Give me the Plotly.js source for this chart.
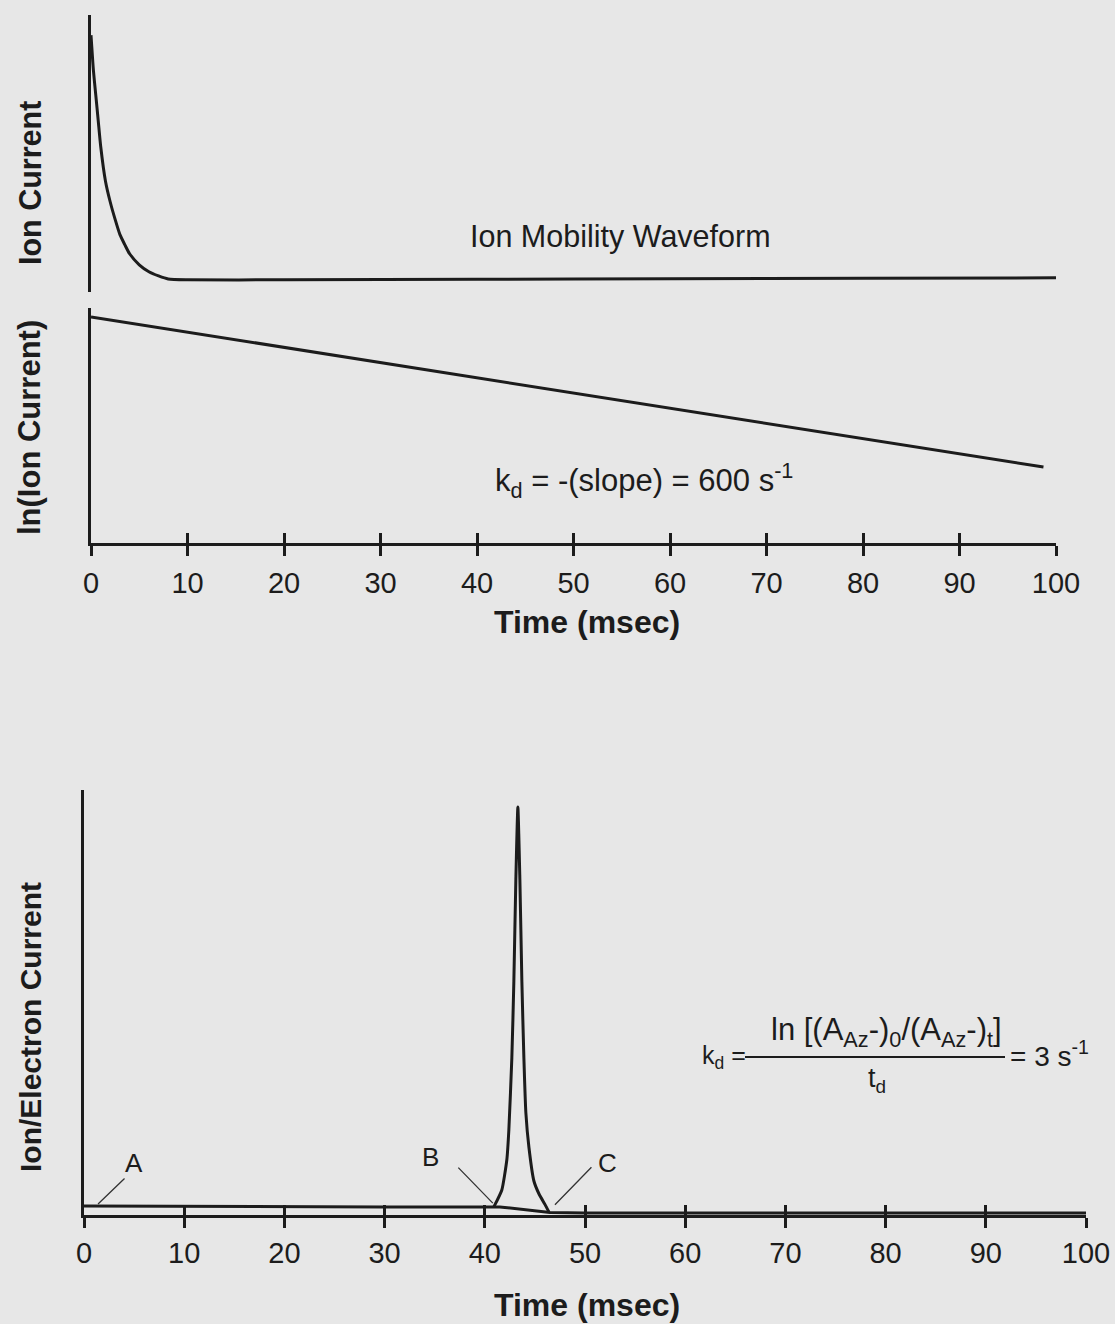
<!DOCTYPE html>
<html><head><meta charset="utf-8">
<script src="https://cdn.plot.ly/plotly-3.0.1.min.js"></script>
<style>html,body{margin:0;padding:0;background:#e7e7e7;}#chart{width:1115px;height:1324px;}</style>
</head><body><div id="chart"></div>
<script>
// ---- data ----
const tickVals = [0, 10, 20, 30, 40, 50, 60, 70, 80, 90, 100];
const tickText = ['0', '10', '20', '30', '40', '50', '60', '70', '80', '90', '100'];

// Panel 1: ion mobility waveform (ion current, arbitrary units)
const waveT = [0, 0.25, 0.5, 0.75, 1, 1.5, 2, 2.5, 3, 3.5, 4, 5, 6, 7, 8, 10, 20, 40, 60, 80, 100];
const waveI = [0.927, 0.80, 0.709, 0.618, 0.527, 0.40, 0.324, 0.262, 0.207, 0.171, 0.138, 0.098, 0.073, 0.058, 0.047, 0.044, 0.044, 0.046, 0.048, 0.05, 0.051];

// Panel 2: ln(ion current)
const lnT = [0, 50, 98.7];
const lnI = [0.962, 0.638, 0.323];

// Panel 3: ion/electron current
const baseT = [0, 10, 20, 30, 40, 41.5, 46.5, 50, 100];
const baseI = [0.021, 0.02, 0.019, 0.019, 0.019, 0.019, 0.006, 0.005, 0.005];
const peakT = [40.9, 41.7, 42.2, 42.4, 42.7, 42.9, 43.1, 43.3, 43.5, 43.7, 43.9, 44.1, 44.4, 44.9, 45.4, 46.0, 46.4];
const peakI = [0.019, 0.059, 0.13, 0.20, 0.37, 0.55, 0.79, 0.96, 0.79, 0.55, 0.37, 0.24, 0.16, 0.08, 0.05, 0.025, 0.007];

// labelled points on panel 3
const markT = [1.4, 40.8, 47.0];
const markI = [0.026, 0.028, 0.024];
const markText = ['A', 'B', 'C'];

// ---- layout helpers ----
const W = 1115, H = 1324;
const px = x => x / W;
const py = y => 1 - y / H;
const INK = '#1c1c1c';
const BG = '#e7e7e7';
const FONT = 'Liberation Sans, Arial, Helvetica, sans-serif';

const lineStyle = {color: INK, width: 3};
const traces = [
  {x: waveT, y: waveI, xaxis: 'x', yaxis: 'y', mode: 'lines', line: Object.assign({shape: 'spline', smoothing: 0.6}, lineStyle), hoverinfo: 'skip'},
  {x: lnT, y: lnI, xaxis: 'x', yaxis: 'y2', mode: 'lines', line: lineStyle, hoverinfo: 'skip'},
  {x: baseT, y: baseI, xaxis: 'x2', yaxis: 'y3', mode: 'lines', line: lineStyle, hoverinfo: 'skip'},
  {x: peakT, y: peakI, xaxis: 'x2', yaxis: 'y3', mode: 'lines', line: Object.assign({shape: 'spline', smoothing: 0.5}, lineStyle), hoverinfo: 'skip'},
  // empty traces so that the overlaid "inside tick" axes are drawn
  {x: [null], y: [null], xaxis: 'x3', yaxis: 'y2', mode: 'lines', hoverinfo: 'skip'},
  {x: [null], y: [null], xaxis: 'x4', yaxis: 'y3', mode: 'lines', hoverinfo: 'skip'}
];

function xAxisMain(domain, anchor, standoff) {
  return {
    domain: domain, anchor: anchor, range: [0, 100],
    showline: true, linecolor: INK, linewidth: 3,
    ticks: 'outside', ticklen: 10, tickwidth: 3, tickcolor: INK,
    tickmode: 'array', tickvals: tickVals, ticktext: tickText,
    tickfont: {family: FONT, size: 29, color: INK},
    ticklabelstandoff: standoff,
    showgrid: false, zeroline: false, fixedrange: true
  };
}
function xAxisInner(over, anchor) {
  return {
    overlaying: over, anchor: anchor, range: [0, 100],
    showline: false, ticks: 'inside', ticklen: 10, tickwidth: 3, tickcolor: INK,
    tickmode: 'array', tickvals: tickVals, showticklabels: false,
    showgrid: false, zeroline: false, fixedrange: true
  };
}
function yAxis(domain, anchor) {
  return {
    domain: domain, anchor: anchor, range: [0, 1],
    showline: true, linecolor: INK, linewidth: 3,
    ticks: '', showticklabels: false, showgrid: false, zeroline: false, fixedrange: true
  };
}

const topX = [px(91), px(1056)];
const botX = [px(84), px(1086)];

const ann = (text, x, y, opts) => Object.assign({
  text: text, xref: 'paper', yref: 'paper', x: px(x), y: py(y),
  xanchor: 'center', yanchor: 'middle', showarrow: false,
  font: {family: FONT, size: 28, color: INK}
}, opts || {});
const f = s => ({family: FONT, size: s, color: INK});

const annotations = [
  ann('<b>Ion Current</b>', 30, 183, {textangle: -90, font: f(30.5)}),
  ann('<b>ln(Ion Current)</b>', 30, 428, {textangle: -90, font: f(31)}),
  ann('<b>Ion/Electron Current</b>', 30, 1027, {textangle: -90, font: f(30)}),
  ann('<b>Time (msec)</b>', 587, 622, {font: f(32)}),
  ann('<b>Time (msec)</b>', 587, 1305, {font: f(32)}),
  ann('Ion Mobility Waveform', 620, 237, {font: f(30.5)}),
  ann('k<sub>d</sub> = -(slope) = 600 s<sup>-1</sup>', 493, 480, {xanchor: 'left', font: f(31)}),
  ann('k<sub>d</sub> =', 700, 1057, {xanchor: 'left', font: f(25)}),
  ann('ln [(A<sub>Az</sub>-)<sub>0</sub>/(A<sub>Az</sub>-)<sub>t</sub>]', 886, 1032, {font: f(31)}),
  ann('t<sub>d</sub>', 877, 1080, {font: f(27)}),
  ann('= 3 s<sup>-1</sup>', 1008, 1054, {xanchor: 'left', font: f(28)}),
  ann(markText[0], 134, 1163, {font: f(26)}),
  ann(markText[1], 430, 1157, {font: f(26)}),
  ann(markText[2], 607, 1163, {font: f(26)})
];
// leader lines for A, B, C
const tails = [[27, -26], [-35, -36], [37, -38]];
markT.forEach((t, i) => {
  annotations.push({
    text: ' ', xref: 'x2', yref: 'y3', x: t, y: markI[i],
    showarrow: true, arrowhead: 0, arrowwidth: 1.3, arrowcolor: '#333',
    ax: tails[i][0], ay: tails[i][1], font: {size: 1}, borderpad: 0, standoff: 0
  });
});

const layout = {
  width: W, height: H,
  margin: {l: 0, r: 0, t: 0, b: 0},
  paper_bgcolor: BG, plot_bgcolor: 'rgba(0,0,0,0)',
  showlegend: false,
  font: {family: FONT, color: INK},
  xaxis: xAxisMain(topX, 'y2', 2),
  xaxis3: xAxisInner('x', 'y2'),
  xaxis2: xAxisMain(botX, 'y3', 0),
  xaxis4: xAxisInner('x2', 'y3'),
  yaxis: yAxis([py(292), py(15)], 'x'),
  yaxis2: yAxis([py(543), py(308)], 'x'),
  yaxis3: yAxis([py(1215), py(790)], 'x2'),
  annotations: annotations,
  shapes: [
    {type: 'line', xref: 'paper', yref: 'paper', x0: px(745), x1: px(1005), y0: py(1057), y1: py(1057), line: {color: INK, width: 2}}
  ]
};

Plotly.newPlot('chart', traces, layout, {staticPlot: true, displayModeBar: false});
</script>
</body></html>
